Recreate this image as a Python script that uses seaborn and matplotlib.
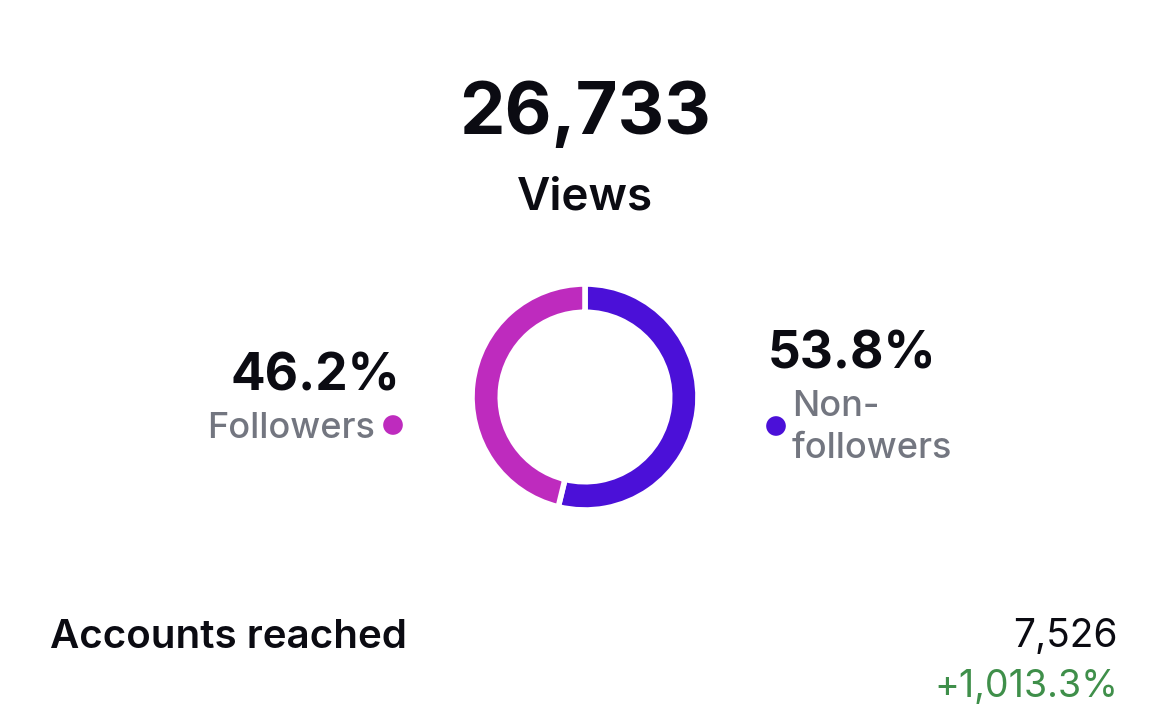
import matplotlib
matplotlib.use("Agg")
import matplotlib.pyplot as plt
import seaborn as sns

# data
total_views = "26,733"
segments = ["Non-followers", "Followers"]
shares = [53.8, 46.2]
seg_colors = ["#4B10D8", "#BE2BBE"]
accounts_reached = "7,526"
accounts_change = "+1,013.3%"

sns.set_theme(style="white")
plt.rcParams['font.family'] = ['Inter', 'DejaVu Sans']

W, H = 1170, 727
fig = plt.figure(figsize=(W / 100, H / 100), dpi=100)
ax = fig.add_axes([0, 0, 1, 1])
ax.set_xlim(0, W)
ax.set_ylim(H, 0)
ax.set_axis_off()

dark = "#0b0b12"
grey = "#737680"

ax.text(585, 115, total_views, ha="center", va="center", fontsize=52, fontweight="bold", color=dark)
ax.text(585, 198, "Views", ha="center", va="center", fontsize=33, fontweight="semibold", color=dark)

# donut
pax = fig.add_axes([(585 - 113) / W, (H - 397 - 113) / H, 226 / W, 226 / H])
pax.pie(shares, colors=seg_colors, startangle=90, counterclock=False, radius=1,
        wedgeprops=dict(width=0.25, edgecolor="white", linewidth=4))
pax.set_xlim(-1, 1)
pax.set_ylim(-1, 1)
pax.set_aspect("equal")

# left label
ax.text(400, 377, f"{shares[1]}%", ha="right", va="center", fontsize=37, fontweight="bold", color=dark)
ax.text(375, 428, segments[1], ha="right", va="center", fontsize=26, fontweight="medium", color=grey)
ax.scatter([393], [425], s=200, color=seg_colors[1], edgecolor="none")

# right label
ax.text(768, 355, f"{shares[0]}%", ha="left", va="center", fontsize=37, fontweight="bold", color=dark)
ax.scatter([776], [426], s=200, color=seg_colors[0], edgecolor="none")
ax.text(792, 406, "Non-", ha="left", va="center", fontsize=26, fontweight="medium", color=grey)
ax.text(792, 449, "followers", ha="left", va="center", fontsize=26, fontweight="medium", color=grey)

# bottom row
ax.text(50, 637, "Accounts reached", ha="left", va="center", fontsize=29, fontweight="semibold", color=dark)
ax.text(1118, 637, accounts_reached, ha="right", va="center", fontsize=28, color=dark)
ax.text(1118, 687, accounts_change, ha="right", va="center", fontsize=27, color="#3f8f4a")

fig.savefig("out.png", dpi=100, facecolor="white")
